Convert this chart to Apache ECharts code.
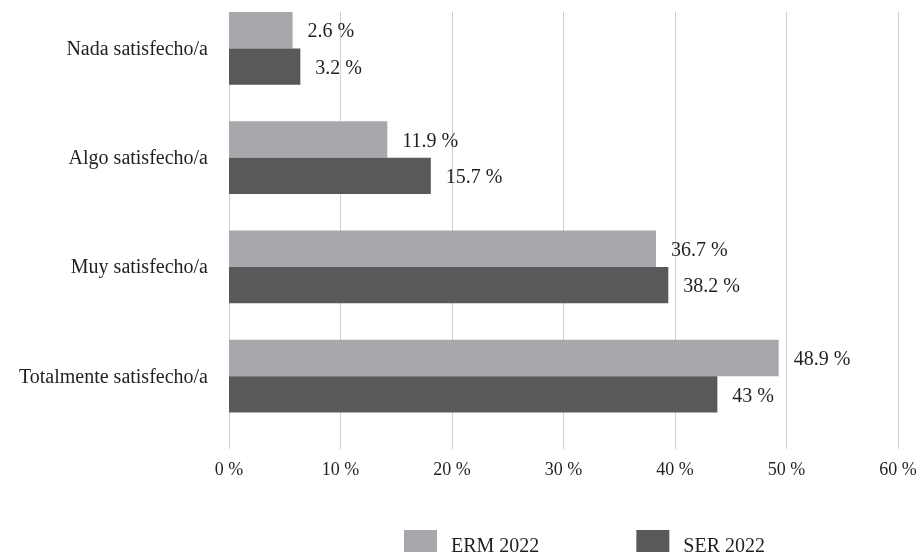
<!DOCTYPE html>
<html>
<head>
<meta charset="utf-8">
<script src="https://cdn.jsdelivr.net/npm/echarts@6/dist/echarts.min.js"></script>
<style>
html,body{margin:0;padding:0;background:#fff;}
#chart{width:921px;height:552px;}
</style>
</head>
<body>
<div id="chart"></div>
<script>
var categories = ['Nada satisfecho/a', 'Algo satisfecho/a', 'Muy satisfecho/a', 'Totalmente satisfecho/a'];
var seriesNames = ['ERM 2022', 'SER 2022'];
// bar lengths as drawn in the picture (%)
var ermValues = [5.7, 14.2, 38.3, 49.3];
var serValues = [6.4, 18.1, 39.4, 43.8];
// value labels printed next to bars
var ermLabels = ['2.6 %', '11.9 %', '36.7 %', '48.9 %'];
var serLabels = ['3.2 %', '15.7 %', '38.2 %', '43 %'];
var xTicks = [0, 10, 20, 30, 40, 50, 60];

var FONT = '"Liberation Serif", "DejaVu Serif", serif';
var TXT = '#231f20';

function labelCfg(arr) {
  return {
    show: true, position: 'right', distance: 15, offset: [0, 2],
    fontFamily: FONT, fontSize: 20, color: TXT,
    formatter: function (p) { return arr[p.dataIndex]; }
  };
}

var chart = echarts.init(document.getElementById('chart'));
chart.setOption({
  animation: false,
  backgroundColor: '#ffffff',
  grid: { left: 229, right: 23, top: 12, bottom: 103, containLabel: false },
  legend: {
    data: seriesNames,
    left: 399, top: 525,
    itemWidth: 33, itemHeight: 33, itemGap: 97,
    icon: 'rect',
    textStyle: { fontFamily: FONT, fontSize: 20, color: TXT, padding: [0, 0, 0, 9] }
  },
  xAxis: {
    type: 'value',
    min: xTicks[0], max: xTicks[xTicks.length - 1], interval: 10,
    axisLine: { show: false },
    axisTick: { show: false },
    splitLine: { show: true, lineStyle: { color: '#d0d0d0', width: 1 } },
    axisLabel: { formatter: '{value} %', fontFamily: FONT, fontSize: 18, color: TXT, margin: 12 }
  },
  yAxis: {
    type: 'category',
    data: categories,
    inverse: true,
    axisLine: { show: false },
    axisTick: { show: false },
    splitLine: { show: false },
    axisLabel: { fontFamily: FONT, fontSize: 20, color: TXT, margin: 21, verticalAlign: 'bottom', lineHeight: 34 }
  },
  series: [
    { name: seriesNames[0], type: 'bar', data: ermValues, itemStyle: { color: '#a7a8ab' },
      barGap: '0%', barCategoryGap: '0%', label: labelCfg(ermLabels) },
    { name: seriesNames[1], type: 'bar', data: serValues, itemStyle: { color: '#58595b' },
      barGap: '0%', barCategoryGap: '0%', label: labelCfg(serLabels) },
    { name: '', type: 'bar', data: [null, null, null, null], barGap: '0%', barCategoryGap: '0%' }
  ]
});
</script>
</body>
</html>
